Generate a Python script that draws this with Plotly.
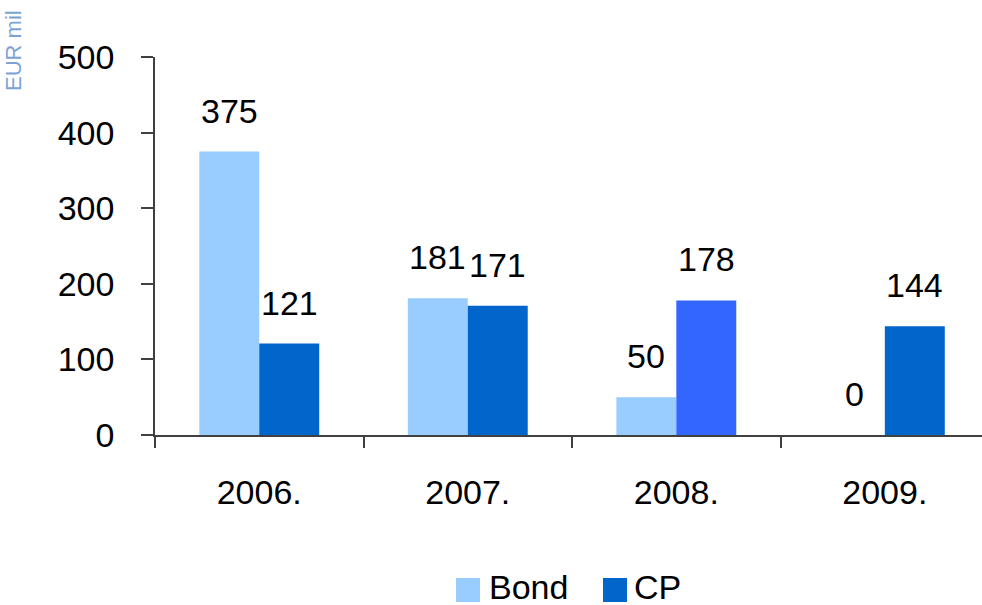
import plotly.graph_objects as go

categories = ["2006.", "2007.", "2008.", "2009."]
series_names = ["Bond", "CP"]
bond_values = [375, 181, 50, 0]
cp_values = [121, 171, 178, 144]
bond_color = "#99CCFF"
cp_colors = ["#0066CC", "#0066CC", "#3366FF", "#0066CC"]
y_ticks = [0, 100, 200, 300, 400, 500]
unit_label = "EUR mil"

FONT = "Liberation Sans, Arial, sans-serif"
FS = 34
W, H = 982, 605
L, R, T, B = 155, 0, 57, 170
pw = W - L - R
ph = H - T - B

def px_x(px):
    return (px - L) / pw

def px_y(py):
    return (H - B - py) / ph

fig = go.Figure()
fig.add_trace(go.Bar(x=categories, y=bond_values, name=series_names[0],
                     marker=dict(color=bond_color, line=dict(width=0)), showlegend=False))
fig.add_trace(go.Bar(x=categories, y=cp_values, name=series_names[1],
                     marker=dict(color=cp_colors, line=dict(width=0)), showlegend=False))

annotations = []
for i, v in enumerate(bond_values):
    annotations.append(dict(x=i, y=v, xref="x", yref="y", text=str(v), showarrow=False,
                            xshift=-30, yshift=41, yanchor="middle", xanchor="center",
                            font=dict(family=FONT, size=FS, color="#000000")))
for i, v in enumerate(cp_values):
    annotations.append(dict(x=i, y=v, xref="x", yref="y", text=str(v), showarrow=False,
                            xshift=30, yshift=41, yanchor="middle", xanchor="center",
                            font=dict(family=FONT, size=FS, color="#000000")))

# unit label
annotations.append(dict(x=px_x(13), y=px_y(51), xref="paper", yref="paper", text=unit_label,
                        textangle=-90, showarrow=False, xanchor="center", yanchor="middle",
                        borderpad=0,
                        font=dict(family=FONT, size=22, color="#7BA3D3")))

# manual legend
shapes = []
leg_items = [(series_names[0], bond_color, 456, 488), (series_names[1], cp_colors[0], 603, 633)]
for name, col, sx, tx in leg_items:
    shapes.append(dict(type="rect", xref="paper", yref="paper",
                       x0=px_x(sx), x1=px_x(sx + 24), y0=px_y(602), y1=px_y(578),
                       fillcolor=col, line=dict(width=0)))
    annotations.append(dict(x=px_x(tx), y=px_y(587), xref="paper", yref="paper", text=name,
                            showarrow=False, xanchor="left", yanchor="middle", borderpad=0,
                            font=dict(family=FONT, size=FS, color="#000000")))

fig.update_layout(
    width=W, height=H,
    margin=dict(l=L, r=R, t=T, b=B, pad=0),
    paper_bgcolor="white", plot_bgcolor="white",
    barmode="group", bargap=0.425, bargroupgap=0,
    font=dict(family=FONT, size=FS, color="#000000"),
    annotations=annotations, shapes=shapes,
    showlegend=False,
)
fig.update_xaxes(type="category", range=[-0.5, 3.466], showgrid=False, zeroline=False,
                 showline=True, linecolor="#404040", linewidth=1.5,
                 ticks="outside", ticklen=11, tickcolor="#404040", tickwidth=1.5,
                 tickson="boundaries", ticklabelstandoff=26,
                 tickfont=dict(family=FONT, size=FS, color="#000000"))
fig.update_yaxes(range=[0, 500], tickvals=y_ticks, showgrid=False, zeroline=False,
                 showline=True, linecolor="#404040", linewidth=1.5,
                 ticks="outside", ticklen=12, tickcolor="#404040", tickwidth=1.5,
                 ticklabelstandoff=20,
                 tickfont=dict(family=FONT, size=FS, color="#000000"))

fig.write_html("out.html", config={"displayModeBar": False},
               post_script="document.body.style.margin='0';document.body.style.overflow='hidden';")
